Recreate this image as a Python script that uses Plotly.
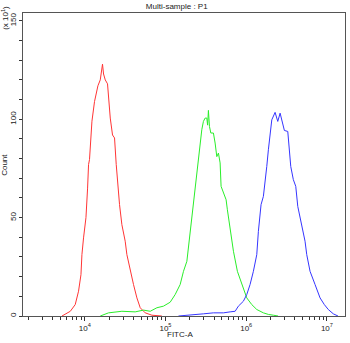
import plotly.graph_objects as go

# Histogram traces: x positions as log10(FITC-A), y as counts
red_log10 = [3.718, 3.759, 3.821, 3.882, 3.923, 3.953, 3.965, 3.985, 4.015, 4.035, 4.047, 4.059, 4.068,
             4.089, 4.121, 4.151, 4.163, 4.192, 4.208, 4.220, 4.233, 4.254, 4.282, 4.295, 4.316, 4.344,
             4.369, 4.390, 4.411, 4.431, 4.460, 4.501, 4.522, 4.563, 4.604, 4.646, 4.687, 4.749, 4.832, 4.955]
red_count = [0, 0.8, 2.4, 5.8, 12.6, 21, 31.2, 39.7, 50, 65, 77, 79.5, 87,
             99, 109, 116, 117, 120, 124, 128, 123, 120, 118, 111, 100.6, 92,
             90.5, 77, 65, 56.6, 46.4, 38, 31.2, 22.7, 16, 9.2, 4.2, 1.6, 0.4, 0]

green_log10 = [4.192, 4.295, 4.460, 4.625, 4.728, 4.811, 4.894, 4.975, 5.058, 5.120, 5.182, 5.223, 5.265,
               5.297, 5.339, 5.347, 5.368, 5.389, 5.408, 5.429, 5.450, 5.470, 5.491, 5.512, 5.522, 5.532,
               5.545, 5.562, 5.594, 5.615, 5.636, 5.656, 5.677, 5.689, 5.718, 5.751, 5.767, 5.788, 5.809,
               5.842, 5.891, 5.946, 6.007, 6.069, 6.131, 6.213, 6.275, 6.337, 6.395]
green_count = [0, 1.6, 2.4, 2.1, 3.0, 2.4, 4.2, 5, 7, 10.9, 16, 22.7, 27.8,
               39.7, 56, 59.1, 65.9, 72.7, 79.4, 87.9, 94.7, 98.9, 100.6, 100.6, 97, 104.5,
               96.3, 93, 93, 87.9, 81, 82.8, 77.8, 65.9, 62.5, 59.1, 54, 48.1, 39.7,
               32.9, 22.7, 16, 9.2, 5.8, 3.3, 1.6, 0.8, 0.4, 0]

blue_log10 = [5.161, 5.306, 5.470, 5.594, 5.718, 5.801, 5.863, 5.903, 5.965, 6.007, 6.048, 6.089, 6.131,
              6.151, 6.184, 6.213, 6.234, 6.255, 6.275, 6.296, 6.317, 6.358, 6.391, 6.420, 6.448, 6.473,
              6.515, 6.531, 6.552, 6.584, 6.614, 6.639, 6.680, 6.729, 6.750, 6.791, 6.853, 6.915, 6.968,
              7.017, 7.079, 7.137]
blue_count = [0, 0.4, 1.1, 1.6, 1.6, 2.1, 2.4, 5, 7.5, 10.9, 16, 22.7, 31.2,
              43, 56.6, 60.8, 67.6, 76, 84.5, 93, 99.7, 103.5, 98.9, 103.1, 98, 94.3,
              93.8, 84.5, 76, 69.3, 65.9, 55.7, 48.1, 38, 31.2, 22.7, 16, 9.2, 5.8,
              3.3, 1.1, 0]

x_major = [1e4, 1e5, 1e6, 1e7]
x_major_text = ["10<sup>4</sup>", "10<sup>5</sup>", "10<sup>6</sup>", "10<sup>7</sup>"]
x_minor = [m * 10 ** e for e in [3, 4, 5, 6, 7] for m in range(2, 10)]
y_major = [0, 50, 100, 150]
y_major_text = ["0", "50", "100", "150"]
y_minor = list(range(0, 160, 10))

FONT = "Liberation Sans, Arial, sans-serif"

fig = go.Figure()
for lx, cnt, col in [(red_log10, red_count, "#ff3535"),
                     (green_log10, green_count, "#2aee2a"),
                     (blue_log10, blue_count, "#3535ff")]:
    fig.add_trace(go.Scatter(x=[10 ** v for v in lx], y=cnt, mode="lines",
                             line=dict(color=col, width=1), showlegend=False, hoverinfo="skip"))

fig.update_layout(
    width=350, height=343,
    margin=dict(l=23, r=5, t=13, b=27, autoexpand=False),
    paper_bgcolor="white", plot_bgcolor="white",
    font=dict(family=FONT, size=8, color="#222"),
    title=dict(text="Multi-sample : P1", x=0.505, xanchor="center", y=0.982, yanchor="middle",
               font=dict(family=FONT, size=8, color="#222")),
)
fig.update_xaxes(
    type="log", range=[3.235, 7.224], automargin=False,
    showgrid=False, zeroline=False,
    showline=True, linecolor="#555", linewidth=1, mirror=True,
    ticks="outside", ticklen=4, tickcolor="#333",
    tickvals=x_major, ticktext=x_major_text, tickfont=dict(size=8),
    minor=dict(ticks="outside", ticklen=3, tickcolor="#333", tickvals=x_minor, showgrid=False),
)
fig.update_yaxes(
    range=[0, 154], automargin=False,
    showgrid=False, zeroline=False,
    showline=True, linecolor="#555", linewidth=1, mirror=True,
    ticks="outside", ticklen=3, tickcolor="#333",
    tickvals=y_major, ticktext=y_major_text, tickangle=-90, tickfont=dict(size=8),
    minor=dict(ticks="outside", ticklen=3, tickcolor="#333", tickvals=y_minor, showgrid=False),
)
fig.add_annotation(text="FITC-A", xref="paper", yref="paper", x=0.488, y=-0.062,
                   xanchor="center", yanchor="middle", showarrow=False,
                   font=dict(family=FONT, size=8, color="#222"))
fig.add_annotation(text="Count", xref="paper", yref="paper", x=-0.058, y=0.5,
                   xanchor="center", yanchor="middle", textangle=-90, showarrow=False,
                   font=dict(family=FONT, size=8, color="#222"))
fig.add_annotation(text="(x 10<sup>1</sup>)", xref="paper", yref="paper", x=-0.058, y=0.985,
                   xanchor="center", yanchor="middle", textangle=-90, showarrow=False,
                   font=dict(family=FONT, size=8, color="#222"))

fig.write_html("out.html",
               config={"displayModeBar": False, "staticPlot": True},
               post_script="document.body.style.margin='0';document.body.style.overflow='hidden';")
